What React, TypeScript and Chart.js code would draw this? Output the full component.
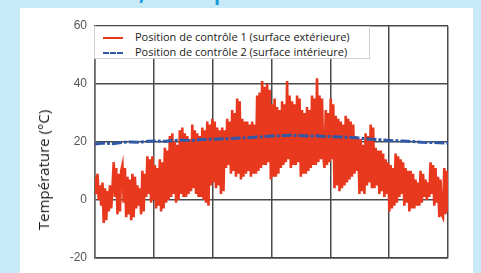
import React, { useEffect, useRef } from "react";
import { Chart, registerables } from "chart.js";

Chart.register(...registerables);

const yTicks = [-20, 0, 20, 40, 60];
const xGridMax = 360;
const xGridStep = 60;

const seriesLabels = [
  "Position de contrôle 1 (surface extérieure)",
  "Position de contrôle 2 (surface intérieure)",
];
const axisTitle = "Température (°C)";

// Control position 1 (outer surface) – daily oscillating temperature
const outerSurface = [
  8, 2, 9, 0,
  5, -2, 6,
  -8, 4, -7, 3,
  -4, 5, -3, 4,
  13, 1, 11,
  -5, 9, -4, 10,
  12, -1, 11,
  -6, 8, -5, 7,
  -7, 9, -6, 8,
  -3, 5, -2, 4,
  -5, 10, -4, 9,
  1, 15, 2, 14,
  -1, 15, 0,
  12, -3, 11, -2,
  14, -4, 13, -3,
  18, -1, 17, 0,
  22, 1, 23, 2,
  20, -1, 19, 0,
  24, 2, 25, 1, 23,
  1, 22, 2, 21,
  3, 26, 4, 24,
  2, 23, 1, 22,
  1, 25, 0, 24,
  -1, 27, -2, 26,
  5, 28, 6, 27,
  4, 25, 5, 24,
  2, 25, 3, 24,
  11, 28, 12, 27,
  9, 31, 10, 30,
  8, 35, 9, 34,
  7, 28, 8, 27,
  9, 27, 10, 26,
  8, 27, 9, 26,
  9, 36, 10, 37,
  11, 41, 12, 39,
  12, 40, 13, 38,
  7, 33, 8, 35,
  8, 32, 9, 31,
  11, 34, 12, 33,
  13, 41, 14, 36,
  11, 34, 12, 33,
  12, 36, 13, 35,
  8, 31, 9, 30,
  9, 32, 10, 31,
  11, 36, 12, 35,
  12, 42, 13,
  36, 14, 35, 15,
  11, 31, 12, 30,
  13, 35, 14, 33,
  4, 29, 5, 28,
  3, 27, 4, 26,
  5, 29, 6, 28,
  7, 27, 8, 26,
  9, 22, 10, 21,
  2, 21, 3, 19, 2,
  23, 5, 22, 6,
  26, 4, 25,
  4, 18, 5, 17,
  2, 17, 3, 16,
  1, 14, 2, 13,
  -4, 12, -3, 11,
  -2, 16, -1, 15,
  1, 14, 2, 13,
  -2, 11, -1, 10,
  -4, 10, -3, 9,
  -3, 7, -2, 6,
  -2, 10, -1, 9,
  1, 7, 0, 6,
  1, 13, 2,
  12, -2, 11, -1,
  8, -6, 7, -5,
  -6, 11, -5, 10, -4,
];

// Control position 2 (inner surface)
const innerSurface = [
  19.3, 19.6, 19.4, 19.8, 20.0, 19.9, 20.2, 20.3, 20.2, 20.5, 20.6, 20.5, 20.8,
  20.9, 21.0, 21.1, 21.3, 21.4, 21.6, 21.8, 22.0, 22.1, 22.3, 22.2, 22.0, 22.1,
  21.9, 21.8, 21.7, 21.5, 21.3, 21.0, 20.8, 20.6, 20.4, 20.3, 20.1, 19.9, 19.8,
  19.7, 19.6,
];

const RED = "#e8391f";
const BLUE = "#2f58a6";

function toPoints(values: number[]) {
  const n = values.length;
  return values.map((y, i) => ({ x: (i * xGridMax) / (n - 1), y }));
}

export default function App() {
  const canvasRef = useRef<HTMLCanvasElement | null>(null);

  useEffect(() => {
    const canvas = canvasRef.current;
    if (!canvas) return;
    const chart = new Chart(canvas, {
      type: "line",
      data: {
        datasets: [
          {
            label: seriesLabels[1],
            data: toPoints(innerSurface),
            borderColor: BLUE,
            borderWidth: 3,
            borderDash: [10, 2, 3, 2],
            pointRadius: 0,
            tension: 0,
          },
          {
            label: seriesLabels[0],
            data: toPoints(outerSurface),
            borderColor: RED,
            borderWidth: 2.6,
            pointRadius: 0,
            tension: 0,
          },
        ],
      },
      options: {
        responsive: false,
        animation: false,
        devicePixelRatio: 1,
        layout: { padding: { left: 60, right: 33, top: 26, bottom: 12 } },
        plugins: {
          legend: { display: false },
          tooltip: { enabled: false },
        },
        scales: {
          x: {
            type: "linear",
            min: 0,
            max: xGridMax,
            ticks: { display: false, stepSize: xGridStep },
            grid: { color: "#4a4a4a", lineWidth: 1.5, drawTicks: false },
            border: { display: true, color: "#444", width: 1.5 },
            afterFit: (s: any) => {
              s.height = 0;
            },
          },
          y: {
            type: "linear",
            min: yTicks[0],
            max: yTicks[yTicks.length - 1],
            afterBuildTicks: (s: any) => {
              s.ticks = yTicks.map((v) => ({ value: v }));
            },
            ticks: {
              color: "#555",
              padding: 8,
              font: { family: "Liberation Sans", size: 12 },
            },
            grid: { color: "#4a4a4a", lineWidth: 1.5, drawTicks: false },
            border: { display: true, color: "#666", width: 1.5 },
            afterFit: (s: any) => {
              s.width = 35;
            },
          },
        },
      },
    });
    return () => chart.destroy();
  }, []);

  const lineSample = (color: string, dashed: boolean) => (
    <span
      style={{
        position: "absolute",
        left: 8,
        width: 20,
        height: 0,
        borderTop: dashed ? `2.5px dashed ${color}` : `2px solid ${color}`,
        top: "50%",
      }}
    />
  );

  return (
    <div
      style={{
        position: "fixed",
        left: 0,
        top: 0,
        width: 481,
        height: 273,
        overflow: "hidden",
        background: "#c8e9f8",
        fontFamily: "'Open Sans', Lato, sans-serif",
      }}
    >
      <span
        style={{
          position: "absolute",
          left: 139,
          top: -17,
          fontSize: 20,
          lineHeight: "20px",
          fontWeight: 700,
          color: "#1a9ad6",
        }}
      >
        ,
      </span>
      <span
        style={{
          position: "absolute",
          left: 214,
          top: -17,
          fontSize: 20,
          lineHeight: "20px",
          fontWeight: 700,
          color: "#1a9ad6",
        }}
      >
        p
      </span>
      <div
        style={{
          position: "absolute",
          left: 20,
          top: 8,
          width: 453,
          height: 265,
          background: "#ffffff",
        }}
      />
      <canvas
        ref={canvasRef}
        width={481}
        height={273}
        style={{ position: "absolute", left: 0, top: 0, width: 481, height: 273 }}
      />
      <div
        style={{
          position: "absolute",
          left: 94,
          top: 26,
          width: 276,
          height: 33,
          background: "#ffffff",
          border: "1px solid #cfcfcf",
          boxSizing: "border-box",
        }}
      >
        {[0, 1].map((i) => (
          <div
            key={i}
            style={{
              position: "absolute",
              left: 0,
              top: i === 0 ? 3 : 18,
              height: 14,
              width: 274,
            }}
          >
            {lineSample(i === 0 ? RED : BLUE, i === 1)}
            <span
              style={{
                position: "absolute",
                left: 40,
                top: 0,
                fontSize: 11,
                lineHeight: "14px",
                color: "#1a1a1a",
                whiteSpace: "nowrap",
              }}
            >
              {seriesLabels[i]}
            </span>
          </div>
        ))}
      </div>
      <div
        style={{
          position: "absolute",
          left: 43,
          top: 170,
          transform: "translate(-50%, -50%) rotate(-90deg)",
          fontSize: 15,
          color: "#1a1a1a",
          whiteSpace: "nowrap",
        }}
      >
        {axisTitle}
      </div>
    </div>
  );
}
